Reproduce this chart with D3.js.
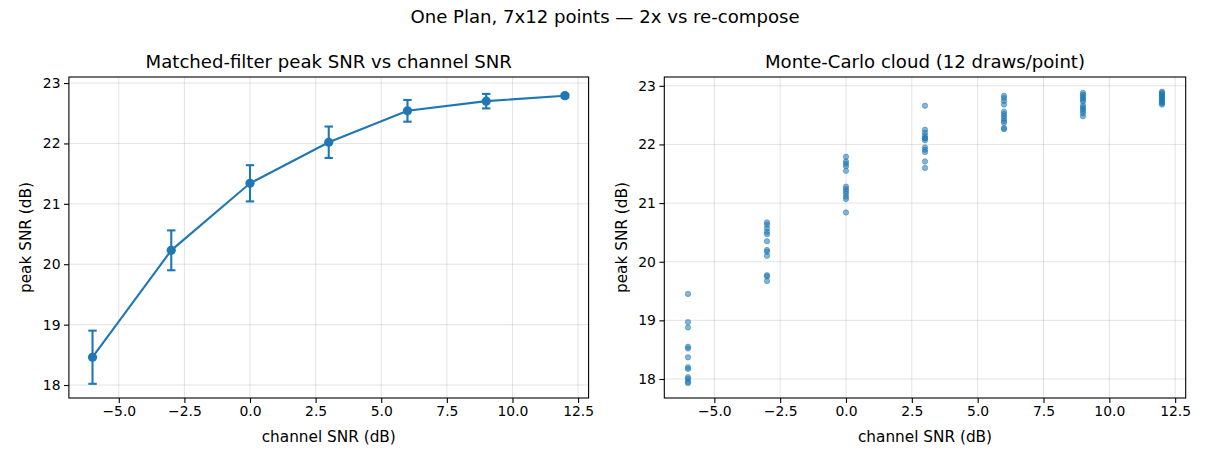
<!DOCTYPE html>
<html>
<head>
<meta charset="utf-8">
<script src="https://cdn.jsdelivr.net/npm/d3@7"></script>
<style>
  body { margin: 0; background: #fff; }
  svg { font-family: "DejaVu Sans", sans-serif; }
  .grid line { stroke: #b0b0b0; stroke-opacity: 0.35; stroke-width: 1; }
</style>
</head>
<body>
<svg id="chart" width="1210" height="462"></svg>
<script>
// channel SNR levels (dB)
const snr = [-6, -3, 0, 3, 6, 9, 12]
// mean peak SNR and spread per level
const peakMean = [18.46, 20.23, 21.34, 22.02, 22.54, 22.70, 22.79]
const peakErr = [0.44, 0.33, 0.30, 0.26, 0.18, 0.12, 0.03]
// 12 monte-carlo draws per level
const draws = [
  [19.45, 18.97, 18.88, 18.55, 18.52, 18.37, 18.20, 18.17, 18.03, 18.00, 17.95, 17.93],
  [20.67, 20.63, 20.57, 20.51, 20.47, 20.35, 20.20, 20.17, 20.10, 19.77, 19.75, 19.67],
  [21.79, 21.71, 21.67, 21.63, 21.55, 21.28, 21.24, 21.20, 21.16, 21.11, 21.07, 20.84],
  [22.66, 22.25, 22.20, 22.15, 22.11, 22.10, 22.07, 21.95, 21.91, 21.87, 21.71, 21.60],
  [22.83, 22.79, 22.74, 22.68, 22.56, 22.52, 22.48, 22.44, 22.40, 22.37, 22.28, 22.26],
  [22.88, 22.85, 22.82, 22.79, 22.76, 22.73, 22.66, 22.63, 22.60, 22.57, 22.53, 22.48],
  [22.90, 22.88, 22.86, 22.84, 22.82, 22.80, 22.78, 22.76, 22.74, 22.72, 22.70, 22.68]
]
const xTicks = [-5, -2.5, 0, 2.5, 5, 7.5, 10, 12.5]
const yTicks = [18, 19, 20, 21, 22, 23]

const blue = "#1f77b4"
const svg = d3.select("#chart")

svg.append("text").attr("x", 605).attr("y", 23).attr("text-anchor", "middle")
  .attr("font-size", 18.1).text("One Plan, 7x12 points \u2014 2x vs re-compose")

function panel(left, right, yDom, title) {
  const top = 77, bottom = 398
  const x = d3.scaleLinear().domain([-6.9, 12.9]).range([left, right])
  const y = d3.scaleLinear().domain(yDom).range([bottom, top])
  const g = svg.append("g")

  // grid
  const grid = g.append("g").attr("class", "grid")
  grid.selectAll(".gx").data(xTicks).enter().append("line")
    .attr("x1", d => x(d)).attr("x2", d => x(d)).attr("y1", top).attr("y2", bottom)
  grid.selectAll(".gy").data(yTicks).enter().append("line")
    .attr("y1", d => y(d)).attr("y2", d => y(d)).attr("x1", left).attr("x2", right)

  const fmt = d => d < 0 ? "\u2212" + Math.abs(d).toFixed(1) : d.toFixed(1)
  const xa = g.append("g").attr("transform", `translate(0,${bottom})`)
    .call(d3.axisBottom(x).tickValues(xTicks).tickFormat(fmt).tickSize(4.9).tickPadding(3.5))
  const ya = g.append("g").attr("transform", `translate(${left},0)`)
    .call(d3.axisLeft(y).tickValues(yTicks).tickFormat(d3.format("d")).tickSize(4.9).tickPadding(3.5))
  ;[xa, ya].forEach(a => {
    a.select(".domain").remove()
    a.selectAll("text").attr("font-size", 13.9).attr("font-family", "DejaVu Sans").attr("fill", "#000")
    a.selectAll("line").attr("stroke", "#000").attr("stroke-width", 1.1)
  })

  g.append("rect").attr("x", left).attr("y", top).attr("width", right - left).attr("height", bottom - top)
    .attr("fill", "none").attr("stroke", "#000").attr("stroke-width", 1.1)

  g.append("text").attr("x", (left + right) / 2).attr("y", top - 9).attr("text-anchor", "middle")
    .attr("font-size", 18.1).text(title)
  g.append("text").attr("x", (left + right) / 2).attr("y", 442).attr("text-anchor", "middle")
    .attr("font-size", 15.3).text("channel SNR (dB)")
  g.append("text").attr("transform", `translate(${left - 37.5},${(top + bottom) / 2}) rotate(-90)`)
    .attr("text-anchor", "middle").attr("font-size", 15.3).text("peak SNR (dB)")

  return { g, x, y }
}

// left: mean with error bars
const L = panel(68.9, 588.6, [17.785, 23.1], "Matched-filter peak SNR vs channel SNR")
const pts = snr.map((s, i) => ({ s, m: peakMean[i], e: peakErr[i] }))
const eb = L.g.append("g").attr("stroke", blue).attr("stroke-width", 2.1)
eb.selectAll(".v").data(pts).enter().append("line")
  .attr("x1", d => L.x(d.s)).attr("x2", d => L.x(d.s))
  .attr("y1", d => L.y(d.m - d.e)).attr("y2", d => L.y(d.m + d.e))
;["lo", "hi"].forEach(k => {
  eb.selectAll(".c" + k).data(pts).enter().append("line")
    .attr("x1", d => L.x(d.s) - 4.2).attr("x2", d => L.x(d.s) + 4.2)
    .attr("y1", d => L.y(k == "lo" ? d.m - d.e : d.m + d.e))
    .attr("y2", d => L.y(k == "lo" ? d.m - d.e : d.m + d.e))
})
L.g.append("path").datum(pts).attr("fill", "none").attr("stroke", blue).attr("stroke-width", 2.1)
  .attr("d", d3.line().x(d => L.x(d.s)).y(d => L.y(d.m)))
L.g.selectAll(".dot").data(pts).enter().append("circle")
  .attr("cx", d => L.x(d.s)).attr("cy", d => L.y(d.m)).attr("r", 4.6).attr("fill", blue)

// right: cloud of draws
const R = panel(664.3, 1185.7, [17.676, 23.15], "Monte-Carlo cloud (12 draws/point)")
const cloud = []
snr.forEach((s, i) => draws[i].forEach(v => cloud.push({ s, v })))
R.g.selectAll(".pt").data(cloud).enter().append("circle")
  .attr("cx", d => R.x(d.s)).attr("cy", d => R.y(d.v)).attr("r", 2.7)
  .attr("fill", blue).attr("fill-opacity", 0.55)
  .attr("stroke", blue).attr("stroke-opacity", 0.55).attr("stroke-width", 0.8)
</script>
</body>
</html>
